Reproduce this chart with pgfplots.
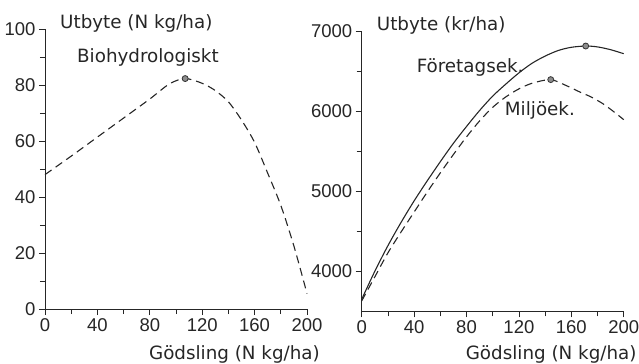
\documentclass[border=0pt]{standalone}
\usepackage{fontspec}
\setmainfont{DejaVu Sans}
\newfontfamily\tickfont{Liberation Sans}
\usepackage{pgfplots}
\pgfplotsset{compat=1.18}
\newcommand\lab{\fontsize{18.3bp}{20bp}\selectfont}
\pgfplotsset{
 mystyle/.style={
  scale only axis, width=262bp, height=280bp,
  axis x line=bottom, axis y line=left,
  axis line style={-, line width=0.9bp, color=black!85},
  tick align=outside,
  major tick length=6bp, minor tick length=5bp,
  every tick/.style={line width=0.8bp, black!85},
  minor x tick num=1, minor y tick num=1,
  /pgf/number format/assume math mode=true,
  /pgf/number format/1000 sep={},
  tick label style={font=\tickfont\fontsize{18.5bp}{20bp}\selectfont, text=black!85},
  clip=false,
  xmin=0, xmax=200,
  xtick={0,40,...,200},
 },
 curve/.style={line width=1.1bp, black!85, smooth, tension=0.5},
 dsh/.style={dash pattern=on 8bp off 5bp},
 pt/.style={only marks, mark=*, mark size=3bp, mark options={fill=black!45, draw=black!80, line width=0.8bp, solid}},
}
\begin{document}
\begin{tikzpicture}
\useasboundingbox (0bp,0bp) rectangle (639bp,-364bp);
% left
\begin{axis}[mystyle, at={(45bp,-309bp)}, anchor=south west,
  ymin=0, ymax=100, ytick={0,20,...,100}]
\addplot[curve, dsh] coordinates {
 (0,48) (20,54.6) (40,61.4) (60,68.2) (80,75) (95,80.4) (107,82.3) (120,80.6)
 (130,78) (140,74) (150,67.5) (160,59.5) (170,48.5) (180,37) (190,22.5) (200,5.5)};
\addplot[pt] coordinates {(107,82.3)};
\node[anchor=base west, inner sep=0, font=\lab, text=black!85] at ([xshift=15bp,yshift=1bp]rel axis cs:0,1) {Utbyte (N kg/ha)};
\node[anchor=base west, inner sep=0, font=\lab, text=black!85] at (axis cs:24.4,87.9) {Biohydrologiskt};
\node[anchor=base east, inner sep=0, font=\lab, text=black!85] at ([xshift=13bp,yshift=-50bp]rel axis cs:1,0) {Gödsling (N kg/ha)};
\end{axis}
% right
\begin{axis}[mystyle, at={(361.7bp,-311.3bp)}, anchor=south west,
  ymin=3500, ymax=7000, ytick={4000,5000,6000,7000}]
\addplot[curve] coordinates {
 (0,3650) (10,4000) (20,4320) (30,4610) (40,4880) (50,5130) (60,5370) (70,5600)
 (80,5810) (90,6010) (100,6190) (110,6340) (120,6480) (130,6600) (140,6690)
 (150,6760) (160,6800) (171,6816) (180,6805) (190,6770) (200,6720)};
\addplot[curve, dsh] coordinates {
 (0,3630) (10,3930) (20,4230) (30,4490) (40,4740) (50,4990) (60,5230) (70,5460)
 (80,5680) (90,5880) (100,6050) (110,6180) (120,6280) (130,6350) (144,6396)
 (155,6330) (166,6245) (175,6180) (184,6096) (192,6000) (200,5896)};
\addplot[pt] coordinates {(171,6816) (144.3,6396)};
\node[anchor=base west, inner sep=0, font=\lab, text=black!85] at ([xshift=15bp,yshift=0.7bp]rel axis cs:0,1) {Utbyte (kr/ha)};
\node[anchor=base west, inner sep=0, font=\lab, text=black!85] at (axis cs:41.9,6479) {Företagsek.};
\node[anchor=base west, inner sep=0, font=\lab, text=black!85] at (axis cs:109.2,5950) {Miljöek.};
\node[anchor=base east, inner sep=0, font=\lab, text=black!85] at ([xshift=13bp,yshift=-47.7bp]rel axis cs:1,0) {Gödsling (N kg/ha)};
\end{axis}
\end{tikzpicture}
\end{document}
